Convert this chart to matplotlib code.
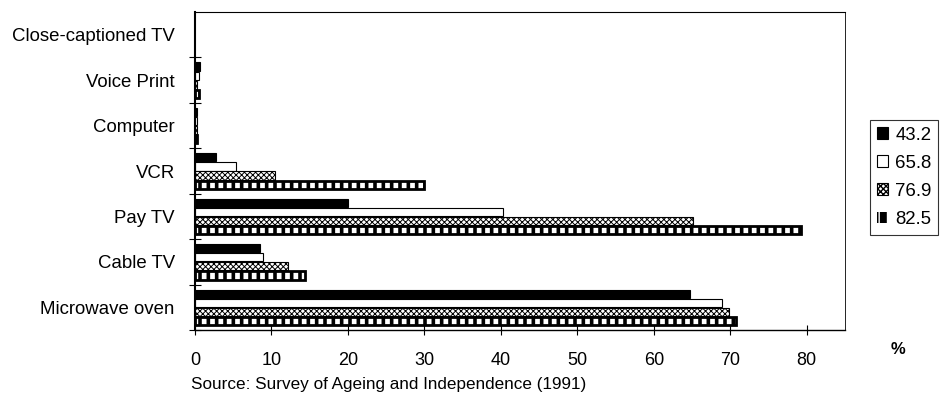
import matplotlib as mpl
mpl.use('Agg')
from matplotlib import pyplot as plt
from matplotlib.patches import Patch
import numpy as np

# Data (percent)
items = ['Close-captioned TV', 'Voice Print', 'Computer', 'VCR',
         'Pay TV', 'Cable TV', 'Microwave oven']
series = ['43.2', '65.8', '76.9', '82.5']
vals_432 = [0.0, 0.6, 0.2, 2.7, 20.0, 8.5, 64.7]
vals_658 = [0.0, 0.5, 0.2, 5.3, 40.3, 8.9, 68.9]
vals_769 = [0.0, 0.3, 0.3, 10.4, 65.1, 12.1, 69.8]
vals_825 = [0.0, 0.5, 0.3, 30.0, 79.3, 14.4, 70.8]
x_ticks = [0, 10, 20, 30, 40, 50, 60, 70, 80]
source = 'Source: Survey of Ageing and Independence (1991)'

plt.rcParams['font.family'] = ['Liberation Sans', 'DejaVu Sans']

fig = plt.figure(figsize=(9.41, 3.95), dpi=100)
ax = fig.add_axes([195 / 941, 65 / 395, 650 / 941, 318 / 395])

y = np.arange(len(items))
h = 0.18
step = 0.2

bars = []
with plt.rc_context({'hatch.linewidth': 0.7}):
    bars.append(ax.barh(y - 1.5 * step, vals_432, height=h, color='black',
                        edgecolor='black', linewidth=0.8))
    bars.append(ax.barh(y - 0.5 * step, vals_658, height=h, color='white',
                        edgecolor='black', linewidth=0.8))
    bars.append(ax.barh(y + 0.5 * step, vals_769, height=h, color='white',
                        edgecolor='black', linewidth=0.8, hatch='xxxxxx'))

# black bar with white blocks
with plt.rc_context({'hatch.linewidth': 3.4}):
    bars.append(ax.barh(y + 1.5 * step, vals_825, height=h, color='black',
                        edgecolor='white', linewidth=0, hatch='||'))
bars.append(ax.barh(y + 1.5 * step, vals_825, height=h, facecolor='none',
                    edgecolor='black', linewidth=2.0))

# zero-width bars should not leave an edge line
for container in bars:
    for rect in container:
        if rect.get_width() == 0:
            rect.set_visible(False)

ax.set_xlim(0, 85)
ax.set_ylim(len(items) - 0.5, -0.5)

ax.set_xticks(x_ticks)
ax.set_xticklabels([str(t) for t in x_ticks], fontsize=13)
ax.tick_params(axis='x', direction='inout', length=7, width=0.8, pad=12)

ax.set_yticks(y + 0.5)
ax.set_yticklabels([])
ax.set_yticks(y, minor=True)
ax.set_yticklabels(items, minor=True, fontsize=13.4)
ax.tick_params(axis='y', which='major', direction='inout', length=8, width=0.8)
ax.tick_params(axis='y', which='minor', length=0, pad=14.5)

ax.spines['left'].set_linewidth(1.5)
ax.spines['bottom'].set_linewidth(1.0)
ax.spines['top'].set_linewidth(0.8)
ax.spines['right'].set_linewidth(0.6)

fig.text(898 / 941, 1 - 350 / 395, '%', fontsize=12, fontweight='bold',
         ha='center', va='center')
fig.text(191 / 941, 1 - 384 / 395, source, fontsize=12.3,
         ha='left', va='center')

# legend
with plt.rc_context({'hatch.linewidth': 0.7}):
    handles = [
        Patch(facecolor='black', edgecolor='black', linewidth=0.8),
        Patch(facecolor='white', edgecolor='black', linewidth=0.8),
        Patch(facecolor='white', edgecolor='black', linewidth=0.8, hatch='xxxxxx'),
    ]
with plt.rc_context({'hatch.linewidth': 3.0}):
    handles.append(Patch(facecolor='black', edgecolor='white', hatch='||',
                         linewidth=0))
leg = fig.legend(handles, series, loc='upper left',
                 bbox_to_anchor=(870 / 941, 1 - 120 / 395),
                 fontsize=13.4, frameon=True, fancybox=False,
                 edgecolor='black', handlelength=0.6, handleheight=0.6,
                 handletextpad=0.4, borderpad=0.35, labelspacing=0.6,
                 borderaxespad=0)
leg.get_frame().set_linewidth(0.8)

fig.savefig('out.png', dpi=100)
